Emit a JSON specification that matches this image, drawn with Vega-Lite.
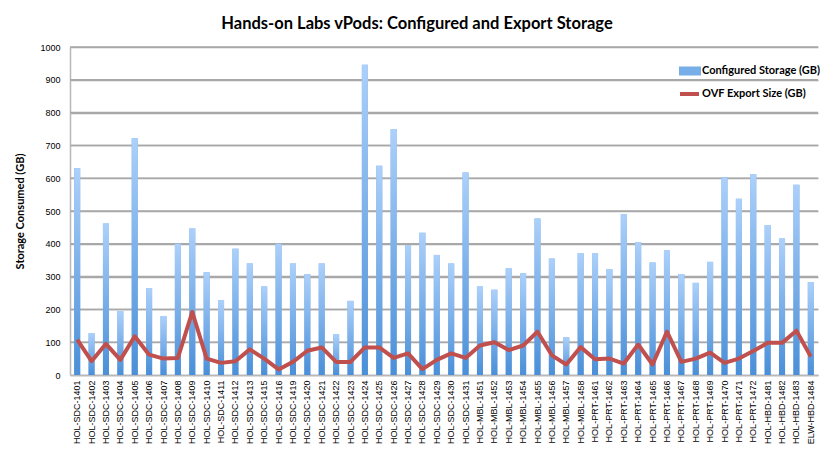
{
  "$schema": "https://vega.github.io/schema/vega-lite/v6.json",
  "width": 748,
  "height": 328,
  "autosize": {"type": "none"},
  "padding": {"left": 70, "top": 47, "right": 16, "bottom": 76},
  "background": "white",
  "title": {
    "text": "Hands-on Labs vPods: Configured and Export Storage",
    "font": "Lato",
    "fontSize": 16.5,
    "fontWeight": "bold",
    "color": "#000000",
    "anchor": "middle",
    "dx": -27,
    "offset": 11
  },
  "datasets": {
    "labs": [
      {"lab": "HOL-SDC-1401", "configured": 630, "ovf": 108},
      {"lab": "HOL-SDC-1402", "configured": 128, "ovf": 42},
      {"lab": "HOL-SDC-1403", "configured": 462, "ovf": 95},
      {"lab": "HOL-SDC-1404", "configured": 195, "ovf": 46},
      {"lab": "HOL-SDC-1405", "configured": 722, "ovf": 118},
      {"lab": "HOL-SDC-1406", "configured": 265, "ovf": 62},
      {"lab": "HOL-SDC-1407", "configured": 180, "ovf": 50},
      {"lab": "HOL-SDC-1408", "configured": 400, "ovf": 52},
      {"lab": "HOL-SDC-1409", "configured": 447, "ovf": 192},
      {"lab": "HOL-SDC-1410", "configured": 313, "ovf": 50},
      {"lab": "HOL-SDC-1411", "configured": 228, "ovf": 37},
      {"lab": "HOL-SDC-1412", "configured": 385, "ovf": 42},
      {"lab": "HOL-SDC-1413", "configured": 340, "ovf": 78},
      {"lab": "HOL-SDC-1415", "configured": 270, "ovf": 50},
      {"lab": "HOL-SDC-1416", "configured": 400, "ovf": 17},
      {"lab": "HOL-SDC-1419", "configured": 340, "ovf": 40},
      {"lab": "HOL-SDC-1420", "configured": 307, "ovf": 74},
      {"lab": "HOL-SDC-1421", "configured": 340, "ovf": 84},
      {"lab": "HOL-SDC-1422", "configured": 124, "ovf": 40},
      {"lab": "HOL-SDC-1423", "configured": 226, "ovf": 40},
      {"lab": "HOL-SDC-1424", "configured": 946, "ovf": 84},
      {"lab": "HOL-SDC-1425", "configured": 638, "ovf": 84},
      {"lab": "HOL-SDC-1426", "configured": 750, "ovf": 52},
      {"lab": "HOL-SDC-1427", "configured": 396, "ovf": 66},
      {"lab": "HOL-SDC-1428", "configured": 434, "ovf": 18},
      {"lab": "HOL-SDC-1429", "configured": 366, "ovf": 46},
      {"lab": "HOL-SDC-1430", "configured": 340, "ovf": 66},
      {"lab": "HOL-SDC-1431", "configured": 617, "ovf": 52},
      {"lab": "HOL-MBL-1451", "configured": 270, "ovf": 90},
      {"lab": "HOL-MBL-1452", "configured": 260, "ovf": 100},
      {"lab": "HOL-MBL-1453", "configured": 325, "ovf": 76},
      {"lab": "HOL-MBL-1454", "configured": 310, "ovf": 90},
      {"lab": "HOL-MBL-1455", "configured": 477, "ovf": 132},
      {"lab": "HOL-MBL-1456", "configured": 355, "ovf": 60},
      {"lab": "HOL-MBL-1457", "configured": 115, "ovf": 32},
      {"lab": "HOL-MBL-1458", "configured": 372, "ovf": 85},
      {"lab": "HOL-PRT-1461", "configured": 372, "ovf": 48},
      {"lab": "HOL-PRT-1462", "configured": 323, "ovf": 50},
      {"lab": "HOL-PRT-1463", "configured": 490, "ovf": 35},
      {"lab": "HOL-PRT-1464", "configured": 405, "ovf": 93},
      {"lab": "HOL-PRT-1465", "configured": 343, "ovf": 32},
      {"lab": "HOL-PRT-1466", "configured": 380, "ovf": 132},
      {"lab": "HOL-PRT-1467", "configured": 308, "ovf": 40},
      {"lab": "HOL-PRT-1468", "configured": 281, "ovf": 50},
      {"lab": "HOL-PRT-1469", "configured": 345, "ovf": 68},
      {"lab": "HOL-PRT-1470", "configured": 603, "ovf": 37},
      {"lab": "HOL-PRT-1471", "configured": 537, "ovf": 50},
      {"lab": "HOL-PRT-1472", "configured": 612, "ovf": 73},
      {"lab": "HOL-HBD-1481", "configured": 457, "ovf": 98},
      {"lab": "HOL-HBD-1482", "configured": 416, "ovf": 98},
      {"lab": "HOL-HBD-1483", "configured": 580, "ovf": 135},
      {"lab": "ELW-HBD-1484", "configured": 283, "ovf": 56}
    ],
    "gridlines": [
      {"gb": 100}, {"gb": 200}, {"gb": 300}, {"gb": 400}, {"gb": 500},
      {"gb": 600}, {"gb": 700}, {"gb": 800}, {"gb": 900}, {"gb": 1000}
    ]
  },
  "encoding": {
    "y": {
      "field": "gb",
      "type": "quantitative",
      "scale": {"domain": [0, 1000], "nice": false},
      "axis": {
        "title": "Storage Consumed (GB)",
        "grid": true,
        "gridColor": "#a8a8a8",
        "gridWidth": 1.5,
        "values": [0, 100, 200, 300, 400, 500, 600, 700, 800, 900, 1000],
        "format": "d",
        "titleFont": "Lato",
        "titleFontSize": 11,
        "titleFontWeight": "bold",
        "titleColor": "#000000",
        "titlePadding": 14,
        "labelFont": "Liberation Sans",
        "labelFontSize": 9,
        "labelColor": "#000000",
        "labelPadding": 10,
        "tickSize": 0,
        "domainColor": "#b8b8b8",
        "domainWidth": 1.5
      }
    }
  },
  "layer": [
    {
      "data": {"name": "gridlines"},
      "mark": {"type": "rule", "stroke": "#a8a8a8", "strokeWidth": 1.5, "opacity": 1},
      "encoding": {}
    },
    {
      "data": {"name": "labs"},
      "transform": [
        {"fold": ["configured", "ovf"], "as": ["measure", "gb"]},
        {"filter": "datum.measure === 'configured'"}
      ],
      "mark": {"type": "bar", "color": "#78aee8"},
      "encoding": {
        "x": {
          "field": "lab",
          "type": "nominal",
          "sort": null,
          "scale": {"paddingInner": 0.58, "paddingOuter": 0.29},
          "axis": {
            "title": null,
            "labelAngle": -90,
            "labelAlign": "right",
            "labelBaseline": "middle",
            "labelFont": "Liberation Sans",
            "labelFontSize": 9,
            "labelColor": "#000000",
            "labelPadding": 5,
            "tickSize": 0,
            "domainColor": "#b8b8b8",
            "domainWidth": 1.5
          }
        },
        "color": {
          "datum": "Configured Storage (GB)",
          "type": "nominal",
          "scale": {
            "domain": ["Configured Storage (GB)", "OVF Export Size (GB)"],
            "range": ["#78aee8", "#c0504d"]
          },
          "legend": {
            "title": null,
            "orient": "none",
            "legendX": 608,
            "legendY": 12,
            "rowPadding": 0,
            "symbolSize": 400,
            "labelFont": "Lato",
            "labelFontSize": 11,
            "labelFontWeight": "bold",
            "labelColor": "#000000",
            "labelOffset": 0,
            "encode": {
              "symbols": {
                "update": {
                  "shape": [
                    {"test": "datum.index === 0", "value": "M-0.9,-0.25H0.9V0.25H-0.9Z"},
                    {"value": "M-1,0H0.9"}
                  ],
                  "fill": [
                    {"test": "datum.index === 0", "value": {"gradient": "linear", "x1": 0, "y1": 0, "x2": 0, "y2": 1, "stops": [{"offset": 0, "color": "#a9cdf8"}, {"offset": 1, "color": "#4b90d8"}]}},
                    {"value": "transparent"}
                  ],
                  "stroke": [
                    {"test": "datum.index === 0", "value": "transparent"},
                    {"value": "#c0504d"}
                  ],
                  "strokeWidth": {"value": 4},
                  "opacity": {"value": 1}
                }
              }
            }
          }
        }
      }
    },
    {
      "data": {"name": "labs"},
      "transform": [
        {"fold": ["configured", "ovf"], "as": ["measure", "gb"]},
        {"filter": "datum.measure === 'configured'"}
      ],
      "mark": {
        "type": "bar",
        "fill": {
          "gradient": "linear",
          "x1": 0, "y1": 0, "x2": 0, "y2": 1,
          "stops": [
            {"offset": 0, "color": "#acd0fa"},
            {"offset": 1, "color": "#4a8fd8"}
          ]
        }
      },
      "encoding": {
        "x": {"field": "lab", "type": "nominal", "sort": null}
      }
    },
    {
      "data": {"name": "labs"},
      "transform": [
        {"fold": ["configured", "ovf"], "as": ["measure", "gb"]},
        {"filter": "datum.measure === 'ovf'"}
      ],
      "mark": {"type": "line", "strokeWidth": 4, "strokeJoin": "round", "strokeCap": "butt"},
      "encoding": {
        "x": {"field": "lab", "type": "nominal", "sort": null},
        "color": {"datum": "OVF Export Size (GB)", "type": "nominal"}
      }
    }
  ],
  "config": {
    "view": {"stroke": null}
  }
}
